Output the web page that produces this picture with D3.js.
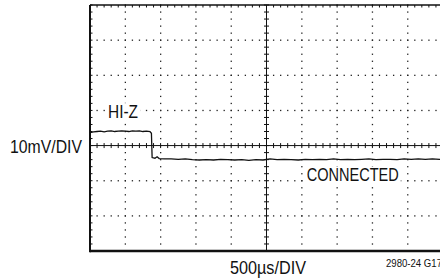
<!DOCTYPE html>
<html>
<head>
<meta charset="utf-8">
<script src="https://cdn.jsdelivr.net/npm/d3@7"></script>
<style>
  html, body { margin: 0; padding: 0; background: #fff; }
  svg { display: block; }
  text { font-family: "Liberation Sans", Arial, sans-serif; fill: #111; }
</style>
</head>
<body>
<div id="chart"></div>
<script>
// scope trace: time in µs, voltage in mV (10mV/div, 500µs/div)
const traceTime = [0, 50, 100, 150, 200, 250, 300, 350, 400, 450, 500, 550, 600, 650, 700, 750, 800, 850, 870,
  880, 920, 950, 980, 1050, 1150, 1250, 1350, 1450, 1550, 1650, 1750, 1850, 1950, 2050, 2150, 2250, 2350,
  2450, 2550, 2650, 2750, 2850, 2950, 3050, 3150, 3250, 3350, 3450, 3550, 3650, 3750, 3850, 3950, 4050,
  4150, 4250, 4350, 4450, 4550, 4650, 4750, 4850, 4950, 5000];
const traceMv = [3.7, 3.9, 4.0, 4.1, 3.9, 4.1, 4.2, 4.0, 4.1, 4.2, 4.1, 4.0, 4.2, 4.1, 4.2, 4.0, 4.1, 4.0, 3.5,
  -3.4, -3.6, -3.2, -3.7, -3.8, -3.8, -3.9, -3.8, -4.0, -4.1, -4.0, -4.1, -3.9, -4.0, -4.1, -4.0, -4.2, -4.0,
  -4.1, -3.8, -4.0, -3.9, -4.0, -4.1, -3.9, -4.0, -3.9, -4.0, -3.8, -4.0, -3.9, -4.0, -3.9, -3.8, -4.0,
  -3.9, -3.9, -4.0, -3.8, -3.9, -3.8, -3.9, -3.8, -3.9, -3.9];

const timeDomain = [0, 5000];     // 10 divisions
const mvDomain = [-30, 40];       // 7 divisions, center line at 0
const timeDivs = d3.range(0, 5001, 500);
const mvDivs = d3.range(-30, 41, 10);

const labels = [
  { text: "HI-Z", t: 255, mv: 7.8, len: 30 },
  { text: "CONNECTED", t: 3070, mv: -10.2, len: 92 }
];

const W = 440, H = 280;
const x = d3.scaleLinear().domain(timeDomain).range([90, 443]);
const y = d3.scaleLinear().domain(mvDomain).range([251, 5]);

const svg = d3.select("#chart").append("svg")
  .attr("width", W)
  .attr("height", H);

// minor positions every 0.2 div
const tMinor = d3.range(0, 5001, 100);
const vMinor = d3.range(-30, 40.01, 2);

const grid = svg.append("g").attr("fill", "#222");

// dotted horizontal gridlines
mvDivs.filter(v => v !== 0 && v !== 40 && v !== -30).forEach(v => {
  grid.selectAll(null).data(tMinor).enter().append("rect")
    .attr("x", d => x(d) - 0.6)
    .attr("y", y(v) - 0.6)
    .attr("width", 1.3)
    .attr("height", 1.3);
});
// dotted vertical gridlines
timeDivs.filter(t => t !== 2500 && t !== 0).forEach(t => {
  grid.selectAll(null).data(vMinor).enter().append("rect")
    .attr("x", x(t) - 0.6)
    .attr("y", d => y(d) - 0.6)
    .attr("width", 1.3)
    .attr("height", 1.3);
});

// center crosshair with minor ticks
const cross = svg.append("g").attr("stroke", "#111").attr("stroke-width", 1);
cross.append("line")
  .attr("x1", x(0)).attr("x2", x(5000))
  .attr("y1", y(0)).attr("y2", y(0));
cross.append("line")
  .attr("x1", x(2500)).attr("x2", x(2500))
  .attr("y1", y(40)).attr("y2", y(-30));
cross.selectAll(null).data(tMinor).enter().append("line")
  .attr("x1", d => x(d)).attr("x2", d => x(d))
  .attr("y1", y(0) - 2.5).attr("y2", y(0) + 2.5);
cross.selectAll(null).data(vMinor).enter().append("line")
  .attr("x1", x(2500) - 2.5).attr("x2", x(2500) + 2.5)
  .attr("y1", d => y(d)).attr("y2", d => y(d));

// frame
const frame = svg.append("g").attr("stroke", "#111");
frame.append("line")
  .attr("x1", x(0)).attr("x2", x(5000))
  .attr("y1", y(40)).attr("y2", y(40))
  .attr("stroke-width", 1.6);
frame.selectAll(null).data(tMinor).enter().append("line")
  .attr("x1", d => x(d)).attr("x2", d => x(d))
  .attr("y1", y(40)).attr("y2", y(40) + 2.5)
  .attr("stroke-width", 1);
frame.append("line")
  .attr("x1", x(0)).attr("x2", x(5000))
  .attr("y1", y(-30)).attr("y2", y(-30))
  .attr("stroke-width", 2.5);
frame.append("line")
  .attr("x1", x(0)).attr("x2", x(0))
  .attr("y1", y(40)).attr("y2", y(-30) + 1.2)
  .attr("stroke-width", 2);
frame.selectAll(null).data(vMinor).enter().append("line")
  .attr("x1", x(0)).attr("x2", x(0) + 2.5)
  .attr("y1", d => y(d)).attr("y2", d => y(d))
  .attr("stroke-width", 1);

// trace
svg.append("path")
  .datum(traceMv)
  .attr("fill", "none")
  .attr("stroke", "#111")
  .attr("stroke-width", 1.3)
  .attr("d", d3.line().x((d, i) => x(traceTime[i])).y(d => y(d)));

// in-plot labels (squeezed to the reference widths) on a white patch
const lbl = svg.selectAll(".lbl").data(labels).enter().append("g").attr("class", "lbl");
lbl.append("rect")
  .attr("x", d => x(d.t) - 2)
  .attr("y", d => y(d.mv) - 15)
  .attr("width", d => d.len + 4)
  .attr("height", 17)
  .attr("fill", "#fff");
lbl.append("text")
  .attr("x", d => x(d.t))
  .attr("y", d => y(d.mv))
  .attr("font-size", 19)
  .attr("textLength", d => d.len)
  .attr("lengthAdjust", "spacingAndGlyphs")
  .text(d => d.text);

// axis scale captions
svg.append("text")
  .attr("x", 10).attr("y", 153)
  .attr("font-size", 19)
  .attr("textLength", 72)
  .attr("lengthAdjust", "spacingAndGlyphs")
  .text("10mV/DIV");
svg.append("text")
  .attr("x", 230).attr("y", 274)
  .attr("font-size", 19)
  .attr("textLength", 76)
  .attr("lengthAdjust", "spacingAndGlyphs")
  .text("500µs/DIV");
svg.append("text")
  .attr("x", 386).attr("y", 267)
  .attr("font-size", 11)
  .attr("textLength", 56)
  .attr("lengthAdjust", "spacingAndGlyphs")
  .text("2980-24 G17");
</script>
</body>
</html>
